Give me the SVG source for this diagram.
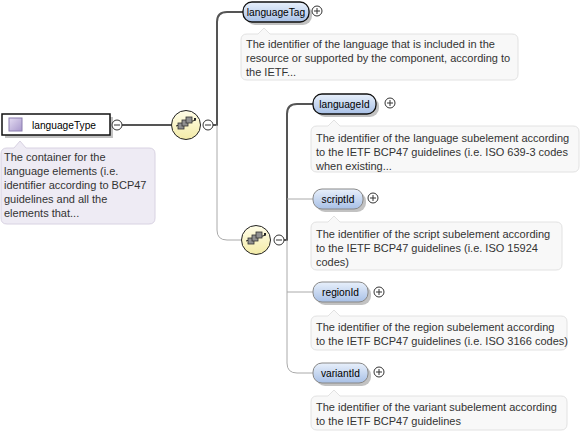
<svg xmlns="http://www.w3.org/2000/svg" width="587" height="434" viewBox="0 0 587 434">
<defs>
<linearGradient id="elG" x1="0" y1="0" x2="0" y2="1">
<stop offset="0" stop-color="#e8f0fb"/>
<stop offset="1" stop-color="#a8c0e6"/>
</linearGradient>
<linearGradient id="seqG" x1="0" y1="0" x2="0" y2="1">
<stop offset="0" stop-color="#fffde8"/>
<stop offset="1" stop-color="#f3eba8"/>
</linearGradient>
<linearGradient id="icoG" x1="0" y1="0" x2="1" y2="1">
<stop offset="0" stop-color="#e4dcf2"/>
<stop offset="1" stop-color="#a898cc"/>
</linearGradient>
<g id="seqIcon">
<ellipse cx="0" cy="0" rx="14.5" ry="14.5" fill="url(#seqG)" stroke="#222" stroke-width="1"/>
<line x1="-10" y1="1" x2="10" y2="-5" stroke="#222" stroke-width="1"/>
<rect x="-8" y="-2" width="6" height="6" fill="#909090" stroke="#333" stroke-width="0.8"/>
<rect x="-4" y="-5" width="6" height="6" fill="#909090" stroke="#333" stroke-width="0.8"/>
<rect x="0" y="-8" width="6" height="6" fill="#909090" stroke="#333" stroke-width="0.8"/>
<rect x="8" y="-7" width="2" height="2" fill="#222"/>
</g>
</defs>
<style>
.lbl{font-family:"Liberation Sans",Arial,sans-serif;font-size:10.2px;fill:#000}
.ann{font-family:"Liberation Sans",Arial,sans-serif;font-size:11px;fill:#333}
.box{fill:#f8f8f8;stroke:#e2e2e2;stroke-width:1}
.rbox{fill:#eeebf4;stroke:#d8d2e2;stroke-width:1}
.req{fill:url(#elG);stroke:#111;stroke-width:1.3}
.opt{fill:url(#elG);stroke:#888;stroke-width:1}
.shd{fill:#9a9a9a;opacity:0.6}
.pm{fill:#fff;stroke:#333;stroke-width:1}
.pms{stroke:#333;stroke-width:1}
.thick{fill:none;stroke:#555;stroke-width:2}
.thin{fill:none;stroke:#aaa;stroke-width:1}
</style>

<g id="connectors">
<line class="thick" x1="122" y1="125" x2="172" y2="125"/>
<path class="thick" d="M213,125 H217 V22 Q217,12 227,12 H243"/>
<path class="thin" d="M217,125 V230 Q217,240 227,240 H242"/>
<path class="thick" d="M284,240 H287 V114 Q287,104 297,104 H313"/>
<path class="thin" d="M287,240 V363 Q287,373 297,373 H313"/>
<line class="thin" x1="287" y1="199" x2="313" y2="199"/>
<line class="thin" x1="287" y1="292" x2="313" y2="292"/>
</g>

<g id="languageType">
<rect class="shd" x="5" y="117" width="108" height="21"/>
<rect x="2" y="114" width="108" height="21" fill="#fff" stroke="#111" stroke-width="1.5"/>
<rect x="9" y="118" width="13" height="13" fill="url(#icoG)" stroke="#8a7cae" stroke-width="1"/>
<text class="lbl" x="32" y="129" font-size="11.5">languageType</text>
<circle class="pm" cx="117" cy="125" r="5"/>
<line class="pms" x1="114" y1="125" x2="120" y2="125"/>
</g>
<g id="languageType-doc">
<path class="rbox" d="M7,148 H14 L20,141 L26,148 H149 Q155,148 155,154 V218 Q155,224 149,224 H7 Q1,224 1,218 V154 Q1,148 7,148 Z"/>
<text class="ann"><tspan x="4" y="161">The container for the</tspan><tspan x="4" y="175">language elements (i.e.</tspan><tspan x="4" y="189">identifier according to BCP47</tspan><tspan x="4" y="203">guidelines and all the</tspan><tspan x="4" y="217">elements that...</tspan></text>
</g>

<g id="sequence1">
<use href="#seqIcon" x="186" y="125"/>
<circle class="pm" cx="208" cy="125" r="5"/>
<line class="pms" x1="205" y1="125" x2="211" y2="125"/>
</g>

<g id="languageTag">
<rect class="shd" x="246" y="5" width="66" height="20" rx="9"/>
<rect class="req" x="243" y="2" width="66" height="20" rx="9"/>
<text class="lbl" x="276" y="16" text-anchor="middle">languageTag</text>
<circle class="pm" cx="317" cy="11" r="5"/>
<line class="pms" x1="314" y1="11" x2="320" y2="11"/>
<line class="pms" x1="317" y1="8" x2="317" y2="14"/>
</g>
<g id="languageTag-doc">
<path class="box" d="M247,34 H258 L264,28 L270,34 H512 Q518,34 518,40 V74 Q518,80 512,80 H247 Q241,80 241,74 V40 Q241,34 247,34 Z"/>
<text class="ann"><tspan x="246" y="48">The identifier of the language that is included in the</tspan><tspan x="246" y="62">resource or supported by the component, according to</tspan><tspan x="246" y="76">the IETF...</tspan></text>
</g>

<g id="sequence2">
<use href="#seqIcon" x="256" y="240"/>
<circle class="pm" cx="279" cy="240" r="5"/>
<line class="pms" x1="276" y1="240" x2="282" y2="240"/>
</g>

<g id="languageId">
<rect class="shd" x="316" y="97" width="63" height="20" rx="9"/>
<rect class="req" x="313" y="94" width="63" height="20" rx="9"/>
<text class="lbl" x="344.5" y="108" text-anchor="middle">languageId</text>
<circle class="pm" cx="390" cy="103" r="5"/>
<line class="pms" x1="387" y1="103" x2="393" y2="103"/>
<line class="pms" x1="390" y1="100" x2="390" y2="106"/>
</g>
<g id="languageId-doc">
<path class="box" d="M317,126 H328 L334,120 L340,126 H573 Q579,126 579,132 V166 Q579,172 573,172 H317 Q311,172 311,166 V132 Q311,126 317,126 Z"/>
<text class="ann"><tspan x="316" y="142">The identifier of the language subelement according</tspan><tspan x="316" y="156">to the IETF BCP47 guidelines (i.e. ISO 639-3 codes</tspan><tspan x="316" y="170">when existing...</tspan></text>
</g>

<g id="scriptId">
<rect class="shd" x="316" y="192" width="50" height="20" rx="9"/>
<rect class="opt" x="313" y="189" width="50" height="20" rx="9"/>
<text class="lbl" x="338" y="203" text-anchor="middle">scriptId</text>
<circle class="pm" cx="373" cy="198" r="5"/>
<line class="pms" x1="370" y1="198" x2="376" y2="198"/>
<line class="pms" x1="373" y1="195" x2="373" y2="201"/>
</g>
<g id="scriptId-doc">
<path class="box" d="M317,222 H328 L334,216 L340,222 H556 Q562,222 562,228 V264 Q562,270 556,270 H317 Q311,270 311,264 V228 Q311,222 317,222 Z"/>
<text class="ann"><tspan x="316" y="238">The identifier of the script subelement according</tspan><tspan x="316" y="252">to the IETF BCP47 guidelines (i.e. ISO 15924</tspan><tspan x="316" y="266">codes)</tspan></text>
</g>

<g id="regionId">
<rect class="shd" x="316" y="285" width="55" height="20" rx="9"/>
<rect class="opt" x="313" y="282" width="55" height="20" rx="9"/>
<text class="lbl" x="340.5" y="296" text-anchor="middle">regionId</text>
<circle class="pm" cx="379" cy="292" r="5"/>
<line class="pms" x1="376" y1="292" x2="382" y2="292"/>
<line class="pms" x1="379" y1="289" x2="379" y2="295"/>
</g>
<g id="regionId-doc">
<path class="box" d="M317,316 H328 L334,310 L340,316 H561 Q567,316 567,322 V344 Q567,350 561,350 H317 Q311,350 311,344 V322 Q311,316 317,316 Z"/>
<text class="ann"><tspan x="316" y="331">The identifier of the region subelement according</tspan><tspan x="316" y="345">to the IETF BCP47 guidelines (i.e. ISO 3166 codes)</tspan></text>
</g>

<g id="variantId">
<rect class="shd" x="316" y="366" width="55" height="20" rx="9"/>
<rect class="opt" x="313" y="363" width="55" height="20" rx="9"/>
<text class="lbl" x="340.5" y="377" text-anchor="middle">variantId</text>
<circle class="pm" cx="379" cy="372" r="5"/>
<line class="pms" x1="376" y1="372" x2="382" y2="372"/>
<line class="pms" x1="379" y1="369" x2="379" y2="375"/>
</g>
<g id="variantId-doc">
<path class="box" d="M317,396 H328 L334,390 L340,396 H561 Q567,396 567,402 V424 Q567,430 561,430 H317 Q311,430 311,424 V402 Q311,396 317,396 Z"/>
<text class="ann"><tspan x="316" y="411">The identifier of the variant subelement according</tspan><tspan x="316" y="425">to the IETF BCP47 guidelines</tspan></text>
</g>
</svg>
